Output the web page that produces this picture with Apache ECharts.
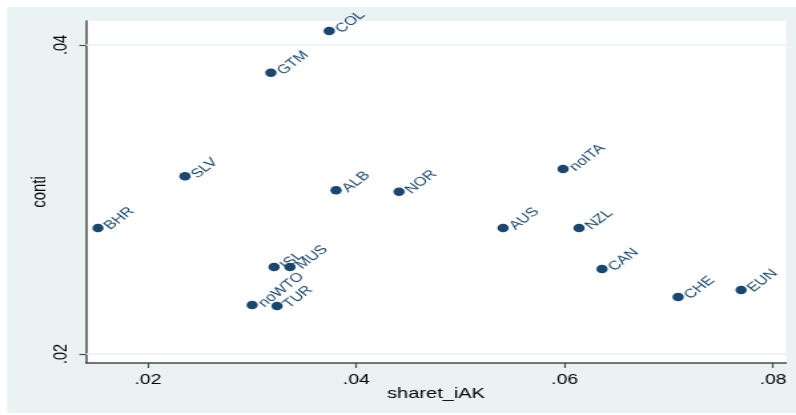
<!DOCTYPE html>
<html>
<head>
<meta charset="utf-8">
<script src="https://cdn.jsdelivr.net/npm/echarts@6/dist/echarts.min.js"></script>
<style>
  html, body { margin: 0; padding: 0; background: #fff; overflow: hidden; }
  /* the reference is a Stata graph stretched sideways, so draw narrow and stretch */
  #chart { width: 598px; height: 415px; transform: scaleX(1.3311); transform-origin: 0 0; }
</style>
</head>
<body>
<div id="chart"></div>
<script>
// countries with share and conti values
const codes = ['COL', 'GTM', 'SLV', 'ALB', 'NOR', 'noITA', 'BHR', 'ISL', 'MUS', 'noWTO', 'TUR', 'AUS', 'NZL', 'CAN', 'CHE', 'EUN'];
const sharet = [0.0374, 0.0318, 0.02355, 0.03805, 0.0441, 0.05985, 0.0152, 0.0321, 0.03363, 0.03, 0.03239, 0.05409, 0.06138, 0.06359, 0.07089, 0.07694];
const conti = [0.0409, 0.0382, 0.0315, 0.0306, 0.0305, 0.03197, 0.02816, 0.02563, 0.02563, 0.02317, 0.02311, 0.02816, 0.02816, 0.0255, 0.02369, 0.02414];
const xTicks = [0.02, 0.04, 0.06, 0.08];
const yTicks = [0.02, 0.04];

const navy = '#1a476f';
const axisColor = '#4a4a4a';
const fmt = v => v.toFixed(2).replace(/^0/, '');

let chart = echarts.init(document.getElementById('chart'));

var option = {
  animation: false,
  textStyle: { fontFamily: 'Liberation Sans, Arial, sans-serif' },
  graphic: [{
    type: 'rect',
    z: -10,
    silent: true,
    shape: { x: 5.3, y: 7, width: 593, height: 406 },
    style: { fill: '#eaf2f3' }
  }],
  grid: {
    left: 64.6,
    right: 7.5,
    top: 21,
    bottom: 52,
    show: true,
    backgroundColor: '#fff',
    borderWidth: 0
  },
  xAxis: {
    type: 'value',
    min: 0.01405,
    max: 0.08125,
    name: 'sharet_iAK',
    nameLocation: 'middle',
    nameGap: 23,
    nameMoveOverlap: false,
    nameTextStyle: { fontSize: 15, color: '#000' },
    axisLine: { onZero: false, lineStyle: { color: axisColor, width: 1.5 } },
    axisTick: { customValues: xTicks, length: 5, lineStyle: { color: axisColor, width: 1.2 } },
    axisLabel: { customValues: xTicks, formatter: fmt, fontSize: 14.5, color: '#000', margin: 9 },
    splitLine: { show: false }
  },
  yAxis: {
    type: 'value',
    min: 0.01942,
    max: 0.04155,
    name: 'conti',
    nameLocation: 'middle',
    nameGap: 27,
    nameMoveOverlap: false,
    nameTextStyle: { fontSize: 15, color: '#000' },
    axisLine: { onZero: false, lineStyle: { color: axisColor, width: 1.5 } },
    axisTick: { customValues: yTicks, length: 5, lineStyle: { color: axisColor, width: 1.2 } },
    axisLabel: { customValues: yTicks, formatter: fmt, fontSize: 14.5, color: '#000', rotate: 90, margin: 11 },
    splitLine: { show: false }
  },
  series: [{
    type: 'scatter',
    symbolSize: 8.5,
    itemStyle: { color: navy, opacity: 1 },
    data: codes.map((c, i) => ({ value: [sharet[i], conti[i]], name: c })),
    label: {
      show: true,
      position: 'right',
      distance: 2.5,
      rotate: 45,
      formatter: p => p.name,
      fontSize: 12.5,
      color: navy
    },
    markLine: {
      silent: true,
      symbol: 'none',
      label: { show: false },
      lineStyle: { color: '#eaf2f3', width: 1.5, type: 'solid' },
      data: yTicks.map(v => ({ yAxis: v }))
    }
  }]
};

chart.setOption(option);
</script>
</body>
</html>
